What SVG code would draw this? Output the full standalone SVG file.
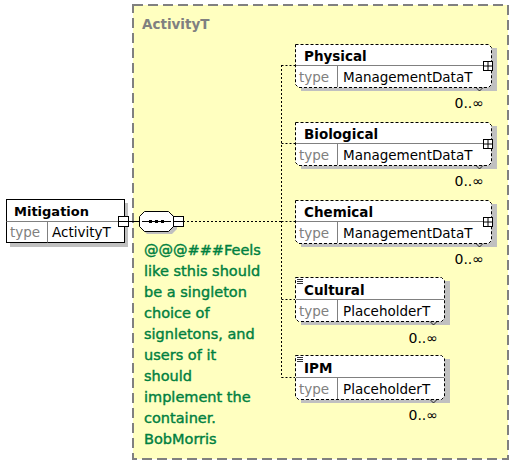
<svg xmlns="http://www.w3.org/2000/svg" width="526" height="465" viewBox="0 0 526 465">
<style>
text{font-family:"DejaVu Sans",Verdana,sans-serif}
.nm{font-size:13.5px;font-weight:bold;fill:#000}
.tl{font-size:13.5px;fill:#808080}
.tv{font-size:13.5px;fill:#000}
.mult{font-size:14px;fill:#000;text-anchor:end}
.cm{font-size:14.5px;fill:#00803F;stroke:#00803F;stroke-width:0.4}
.shadow{fill:#C0C0C0}
.box{fill:#fff;stroke:#000;stroke-width:1;stroke-dasharray:3 2}
.div{stroke:#808080;stroke-width:1;fill:none}
.conn{stroke:#000;stroke-width:1;fill:none;stroke-dasharray:2 2}
.plug{fill:#fff;stroke:#000;stroke-width:1}
</style>
<rect x="0" y="0" width="526" height="465" fill="#fff"/>
<g id="ActivityT">
<rect x="133" y="5" width="375" height="454" fill="#FFFFC0" stroke="#808080" stroke-width="2" stroke-dasharray="10 5"/>
<text x="142" y="29" style="font-size:13.5px;font-weight:bold;fill:#808080">ActivityT</text>
</g>
<g id="connectors">
<line x1="124" y1="221.5" x2="139" y2="221.5" stroke="#000"/>
<line x1="183" y1="221.5" x2="281.5" y2="221.5" class="conn"/>
<line x1="281.5" y1="65" x2="281.5" y2="377.5" class="conn"/>
<line x1="281.5" y1="65.5" x2="295" y2="65.5" class="conn"/>
<line x1="281.5" y1="143.5" x2="295" y2="143.5" class="conn"/>
<line x1="281.5" y1="221.5" x2="295" y2="221.5" class="conn"/>
<line x1="281.5" y1="299.5" x2="295" y2="299.5" class="conn"/>
<line x1="281.5" y1="377.5" x2="295" y2="377.5" class="conn"/>
</g>
<g id="Mitigation">
<rect x="10" y="203" width="118" height="44" class="shadow"/>
<rect x="6.5" y="199.5" width="118" height="43" fill="#fff" stroke="#000"/>
<line x1="6.5" y1="221.5" x2="124.5" y2="221.5" class="div"/>
<line x1="47.5" y1="221.5" x2="47.5" y2="242.5" class="div"/>
<text x="14" y="216" style="font-size:13px;font-weight:bold">Mitigation</text>
<text x="10" y="237" class="tl">type</text>
<text x="52" y="237" class="tv">ActivityT</text>
<rect x="118.5" y="216.5" width="10" height="10" class="plug"/>
<line x1="118.5" y1="221.5" x2="128.5" y2="221.5" stroke="#000"/>
</g>
<g id="sequence">
<polygon points="147,214 172,214 177,219 177,229 172,234 147,234 142,229 142,219" class="shadow"/>
<polygon points="144.5,211.5 168.5,211.5 173.5,216.5 173.5,226.5 168.5,231.5 144.5,231.5 139.5,226.5 139.5,216.5" fill="#fff" stroke="#000"/>
<line x1="142" y1="221.5" x2="171" y2="221.5" stroke="#000"/>
<rect x="149" y="220" width="3" height="3" fill="#000"/>
<rect x="155" y="220" width="3" height="3" fill="#000"/>
<rect x="161" y="220" width="3" height="3" fill="#000"/>
<rect x="173.5" y="216.5" width="10" height="10" class="plug"/>
<line x1="173.5" y1="221.5" x2="183.5" y2="221.5" stroke="#000"/>
</g>
<g id="comment">
<text class="cm" x="144" y="255">@@@###Feels</text>
<text class="cm" x="144" y="276">like sthis should</text>
<text class="cm" x="144" y="297">be a singleton</text>
<text class="cm" x="144" y="318">choice of</text>
<text class="cm" x="144" y="339">signletons, and</text>
<text class="cm" x="144" y="360">users of it</text>
<text class="cm" x="144" y="381">should</text>
<text class="cm" x="144" y="402">implement the</text>
<text class="cm" x="144" y="423">container.</text>
<text class="cm" x="144" y="444">BobMorris</text>
</g>
<g id="Physical">
<rect x="301" y="48" width="196" height="43" class="shadow"/>
<path d="M295.5,44.5 H488.5 L491.5,47.5 V84.5 L488.5,87.5 H298.5 L295.5,84.5 Z" class="box"/>
<line x1="296" y1="65.5" x2="491" y2="65.5" class="div"/>
<line x1="337.5" y1="66" x2="337.5" y2="87" class="div"/>
<polyline points="476,87.5 479.5,91 483,87.5" fill="none" stroke="#000" stroke-width="0.8"/>
<text x="304" y="61" class="nm">Physical</text>
<text x="299" y="82" class="tl">type</text>
<text x="343" y="82" class="tv">ManagementDataT</text>
<rect x="483.5" y="61.5" width="9" height="9" class="plug"/>
<path d="M483.5,66 H492.5 M488,61.5 V70.5" stroke="#000"/>
<text x="484" y="108" class="mult">0..∞</text>
</g>
<g id="Biological">
<rect x="301" y="126" width="196" height="43" class="shadow"/>
<path d="M295.5,122.5 H488.5 L491.5,125.5 V162.5 L488.5,165.5 H298.5 L295.5,162.5 Z" class="box"/>
<line x1="296" y1="143.5" x2="491" y2="143.5" class="div"/>
<line x1="337.5" y1="144" x2="337.5" y2="165" class="div"/>
<polyline points="476,165.5 479.5,169 483,165.5" fill="none" stroke="#000" stroke-width="0.8"/>
<text x="304" y="139" class="nm">Biological</text>
<text x="299" y="160" class="tl">type</text>
<text x="343" y="160" class="tv">ManagementDataT</text>
<rect x="483.5" y="139.5" width="9" height="9" class="plug"/>
<path d="M483.5,144 H492.5 M488,139.5 V148.5" stroke="#000"/>
<text x="484" y="186" class="mult">0..∞</text>
</g>
<g id="Chemical">
<rect x="301" y="204" width="196" height="43" class="shadow"/>
<path d="M295.5,200.5 H488.5 L491.5,203.5 V240.5 L488.5,243.5 H298.5 L295.5,240.5 Z" class="box"/>
<line x1="296" y1="221.5" x2="491" y2="221.5" class="div"/>
<line x1="337.5" y1="222" x2="337.5" y2="243" class="div"/>
<polyline points="476,243.5 479.5,247 483,243.5" fill="none" stroke="#000" stroke-width="0.8"/>
<text x="304" y="217" class="nm">Chemical</text>
<text x="299" y="238" class="tl">type</text>
<text x="343" y="238" class="tv">ManagementDataT</text>
<rect x="483.5" y="217.5" width="9" height="9" class="plug"/>
<path d="M483.5,222 H492.5 M488,217.5 V226.5" stroke="#000"/>
<text x="484" y="264" class="mult">0..∞</text>
</g>
<g id="Cultural">
<rect x="301" y="281" width="149" height="44" class="shadow"/>
<path d="M295.5,277.5 H441.5 L444.5,280.5 V318.5 L441.5,321.5 H298.5 L295.5,318.5 Z" class="box"/>
<line x1="296" y1="299.5" x2="444" y2="299.5" class="div"/>
<line x1="337.5" y1="300" x2="337.5" y2="321" class="div"/>
<polyline points="430,321.5 433.5,325 437,321.5" fill="none" stroke="#000" stroke-width="0.8"/>
<path d="M297,279.5 H303 M297,281.5 H303 M297,283.5 H303" stroke="#000" stroke-width="0.8"/>
<text x="304" y="295" class="nm">Cultural</text>
<text x="299" y="316" class="tl">type</text>
<text x="343" y="316" class="tv">PlaceholderT</text>
<text x="438" y="343" class="mult">0..∞</text>
</g>
<g id="IPM">
<rect x="301" y="359" width="149" height="44" class="shadow"/>
<path d="M295.5,355.5 H441.5 L444.5,358.5 V396.5 L441.5,399.5 H298.5 L295.5,396.5 Z" class="box"/>
<line x1="296" y1="377.5" x2="444" y2="377.5" class="div"/>
<line x1="337.5" y1="378" x2="337.5" y2="399" class="div"/>
<polyline points="430,399.5 433.5,403 437,399.5" fill="none" stroke="#000" stroke-width="0.8"/>
<path d="M297,357.5 H303 M297,359.5 H303 M297,361.5 H303" stroke="#000" stroke-width="0.8"/>
<text x="304" y="373" class="nm">IPM</text>
<text x="299" y="394" class="tl">type</text>
<text x="343" y="394" class="tv">PlaceholderT</text>
<text x="438" y="420" class="mult">0..∞</text>
</g>
</svg>
